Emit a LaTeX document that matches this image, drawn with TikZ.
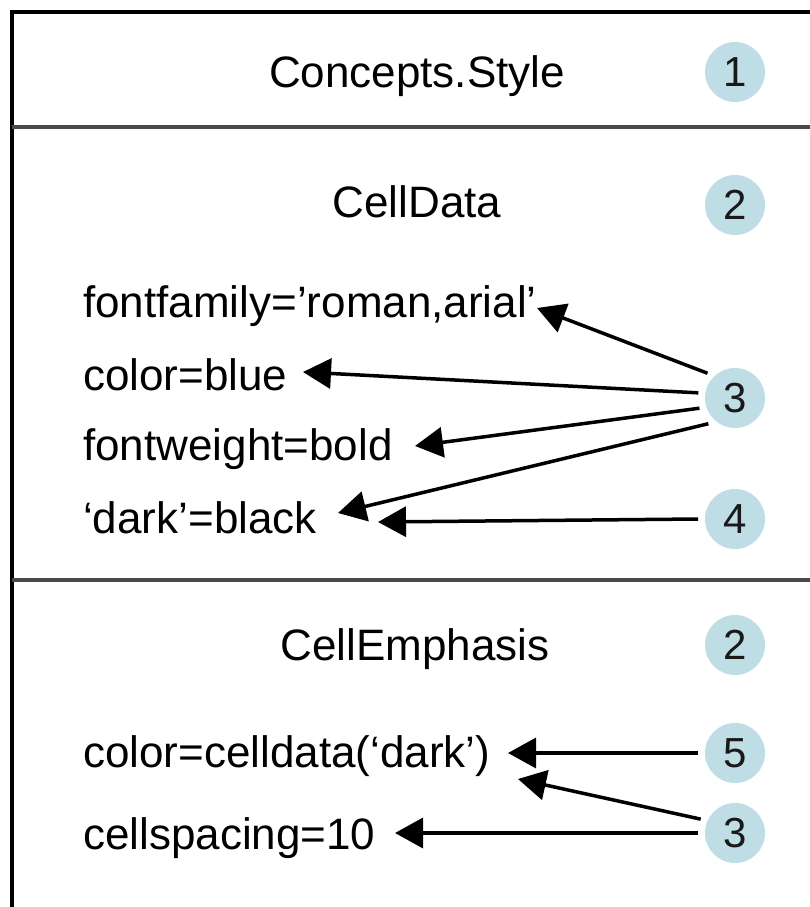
\documentclass[tikz,border=0pt]{standalone}
\usepackage{fontspec}
\setmainfont{Liberation Sans}
\usetikzlibrary{arrows.meta}
\definecolor{badgefill}{HTML}{BFDDE5}
\definecolor{rulegray}{HTML}{4A4A4A}
\begin{document}
\begin{tikzpicture}[x=1pt,y=-1pt,
  label/.style={inner sep=0pt,anchor=base west,font=\fontsize{44}{50}\selectfont},
  heading/.style={inner sep=0pt,anchor=base,font=\fontsize{44}{50}\selectfont},
  badge/.style={circle,fill=badgefill,minimum size=60pt,inner sep=0pt,outer sep=7pt,
    text=black!90,font=\fontsize{42}{46}\selectfont},
  link/.style={line width=3.5pt,-{Triangle[length=28pt,width=30pt]}}]
\useasboundingbox (0,0) rectangle (810,907);
\fill[white] (0,0) rectangle (810,907);

% frame and section rules
\draw[line width=3.5pt] (12,907) -- (12,12) -- (810,12);
\draw[rulegray,line width=3.5pt] (12,127) -- (810,127);
\draw[rulegray,line width=3.5pt] (12,580) -- (810,580);

% headings
\node[heading] (style) at (417,88) {Concepts.Style};
\node[heading] (celldata) at (417,217) {CellData};
\node[heading] (emph) at (415,660) {CellEmphasis};

% property lines
\node[label] (ff) at (83,317) {fontfamily=’roman,arial’};
\node[label] (cb) at (83,390) {color=blue};
\node[label] (fw) at (83,460) {fontweight=bold};
\node[label] (dk) at (83,533) {‘dark’=black};
\node[label] (cd) at (83,767) {color=celldata(‘dark’)};
\node[label] (cs) at (83,849) {cellspacing=10};

% numbered badges
\node[badge] (b1) at (735,72) {1};
\node[badge] (b2) at (735,205) {2};
\node[badge] (b3) at (735,398) {3};
\node[badge] (b4) at (735,519) {4};
\node[badge] (b2e) at (735,645) {2};
\node[badge] (b5) at (735,753) {5};
\node[badge] (b3e) at (735,833) {3};

% arrow end points
\coordinate (tff) at (537,308);
\coordinate (tcb) at (303,372);
\coordinate (tfw) at (415,446);
\coordinate (tdk) at (338,513);
\coordinate (tdk2) at (378,522);
\coordinate (tcd) at (508,753);
\coordinate (tcd2) at (518,779);
\coordinate (tcs) at (395,833);

% connectors
\draw[link] (b3.138) -- (tff);
\draw[link] (b3.172) -- (tcb);
\draw[link] (b3.196) -- (tfw);
\draw[link] (b3.224) -- (tdk);
\draw[link] (b4.west) -- (tdk2);
\draw[link] (b5.west) -- (tcd);
\draw[link] (b3e.158) -- (tcd2);
\draw[link] (b3e.west) -- (tcs);
\end{tikzpicture}
\end{document}
